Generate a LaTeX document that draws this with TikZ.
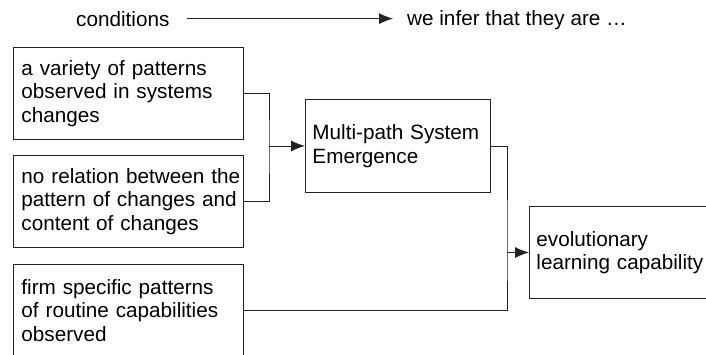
\documentclass[tikz,border=0pt]{standalone}
\usepackage{fontspec}
\setmainfont{Liberation Sans}
\usetikzlibrary{arrows.meta,positioning}
\definecolor{monTrait}{RGB}{34,34,34}
\tikzstyle{cond} = [draw=monTrait, rectangle, anchor=north west, align=left, minimum height=92pt, text width=214pt, inner sep=8pt, line width=0.9pt]
\tikzstyle{infer} = [draw=monTrait, rectangle, anchor=north west, align=left, minimum height=92pt, inner sep=7pt, line width=0.9pt]
\tikzstyle{head} = [anchor=base west, inner sep=0pt]
\tikzstyle{wire} = [draw=monTrait, line width=0.9pt]
\tikzstyle{tip} = [-{Latex[length=14pt,width=11pt]}]

\begin{document}
\begin{tikzpicture}[x=1pt, y=-1pt, font=\fontsize{20.7}{23.5}\selectfont]
    \useasboundingbox (0,0) rectangle (706,354);
    % header
    \node [head] (conditions) at (76,26) {conditions};
    \node [head] (weinfer) at (407,25) {we infer that they are …};
    \draw[wire,tip] ([xshift=17pt]conditions.east) -- ([xshift=-14pt]conditions.east -| weinfer.west);

    % conditions column
    \node [cond] (variety) at (13,47) {\mbox{a variety of patterns}\\\mbox{observed in systems}\\changes};
    \node [cond] (norelation) at (13,155) {\mbox{no relation between the}\\\mbox{pattern of changes and}\\\mbox{content of changes}};
    \node [cond] (firm) at (13,264) {\mbox{firm specific patterns}\\\mbox{of routine capabilities}\\observed};

    % inferred
    \node [infer, text width=171pt, minimum height=93pt] (multipath) at (305,99) {\mbox{Multi-path System}\\Emergence};
    \node [infer, text width=172pt] (evolution) at (529,206) {evolutionary\\\mbox{learning capability}};

    \coordinate (join1) at ([xshift=-36pt]multipath.west);
    \coordinate (join2) at ([xshift=-22pt]evolution.west);
    \draw[wire] (variety.east) -| (join1) |- (norelation.east);
    \draw[wire,tip] (join1) -- (multipath.west);
    \draw[wire] (multipath.east) -| (join2) |- (firm.east);
    \draw[wire,tip] (join2) -- (evolution.west);
\end{tikzpicture}
\end{document}
